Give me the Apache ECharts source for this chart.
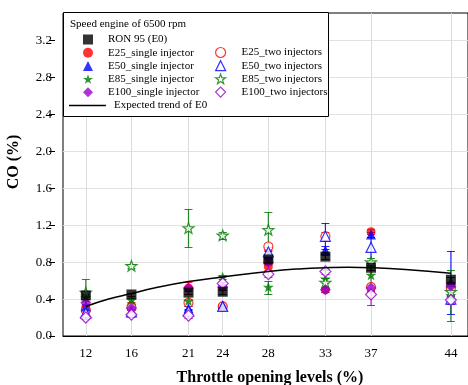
<!DOCTYPE html>
<html>
<head>
<meta charset="utf-8">
<script src="https://cdn.jsdelivr.net/npm/echarts@6/dist/echarts.min.js"></script>
<style>
  html, body { margin: 0; padding: 0; background: #fff; }
  #chart { width: 468px; height: 385px; }
</style>
</head>
<body>
<div id="chart"></div>
<script>
const throttle = [12, 16, 21, 24, 28, 33, 37, 44];
const yTicks = [0, 0.4, 0.8, 1.2, 1.6, 2.0, 2.4, 2.8, 3.2];

const e0 = [0.44, 0.45, 0.47, 0.48, 0.83, 0.86, 0.74, 0.61];
const e0Err = [0.02, 0.02, 0.02, 0.02, 0.03, 0.03, 0.03, 0.03];
const e25Single = [0.30, 0.33, 0.52, 0.32, 0.75, 0.50, 1.13, 0.55];
const e25SingleErr = [0.02, 0.02, 0.06, 0.02, 0.03, 0.02, 0.03, 0.03];
const e25Two = [0.28, 0.31, 0.36, 0.32, 0.97, 1.08, 0.53, 0.52];
const e25TwoErr = [0.02, 0.02, 0.03, 0.02, 0.04, 0.05, 0.03, 0.03];
const e50Single = [0.32, 0.27, 0.30, 0.33, 0.88, 0.93, 1.10, 0.58];
const e50SingleErr = [0.03, 0.02, 0.02, 0.02, 0.04, 0.05, 0.03, 0.34];
const e50Two = [0.25, 0.26, 0.27, 0.32, 0.91, 1.08, 0.96, 0.40];
const e50TwoErr = [0.02, 0.02, 0.02, 0.02, 0.03, 0.14, 0.17, 0.04];
const e85Single = [0.42, 0.39, 0.38, 0.64, 0.53, 0.62, 0.66, 0.44];
const e85SingleErr = [0.02, 0.02, 0.02, 0.02, 0.07, 0.10, 0.10, 0.28];
const e85Two = [0.47, 0.76, 1.17, 1.09, 1.15, 0.58, 0.80, 0.48];
const e85TwoErr = [0.15, 0.02, 0.21, 0.04, 0.19, 0.05, 0.05, 0.05];
const e100Single = [0.36, 0.30, 0.52, 0.53, 0.80, 0.50, 0.52, 0.54];
const e100SingleErr = [0.02, 0.02, 0.02, 0.02, 0.03, 0.02, 0.03, 0.03];
const e100Two = [0.20, 0.23, 0.22, 0.57, 0.67, 0.70, 0.45, 0.39];
const e100TwoErr = [0.02, 0.02, 0.02, 0.02, 0.03, 0.03, 0.11, 0.04];

const trendX = [12, 14, 16, 18, 21, 24, 28, 31, 33, 35, 37, 40, 44];
const trendY = [0.32, 0.40, 0.46, 0.52, 0.59, 0.64, 0.70, 0.73, 0.74, 0.745, 0.74, 0.72, 0.68];

const FONT = "Liberation Serif";
const RED = "#ff0000", BLUE = "#0000ff", GREEN = "#007a00", PURPLE = "#9900cc";
const STAR = "path://M0,-10L2.35,-3.24L9.51,-3.09L3.8,1.24L5.88,8.09L0,4L-5.88,8.09L-3.8,1.24L-9.51,-3.09L-2.35,-3.24Z";
const TREND_ICON = "path://M0,0L40,0L40,1.6L0,1.6Z";

const groups = [
  { name: "E25_single injector", values: e25Single, err: e25SingleErr, color: RED, symbol: "circle", size: 9, hollow: false },
  { name: "E25_two injectors", values: e25Two, err: e25TwoErr, color: RED, symbol: "circle", size: 9, hollow: true },
  { name: "E50_single injector", values: e50Single, err: e50SingleErr, color: BLUE, symbol: "triangle", size: 10, hollow: false },
  { name: "E50_two injectors", values: e50Two, err: e50TwoErr, color: BLUE, symbol: "triangle", size: 10, hollow: true },
  { name: "E85_single injector", values: e85Single, err: e85SingleErr, color: GREEN, symbol: STAR, size: 11, hollow: false },
  { name: "E85_two injectors", values: e85Two, err: e85TwoErr, color: GREEN, symbol: STAR, size: 11, hollow: true },
  { name: "E100_single injector", values: e100Single, err: e100SingleErr, color: PURPLE, symbol: "diamond", size: 11, hollow: false },
  { name: "E100_two injectors", values: e100Two, err: e100TwoErr, color: PURPLE, symbol: "diamond", size: 11, hollow: true },
  { name: "RON 95 (E0)", values: e0, err: e0Err, color: "#000", symbol: "rect", size: 10, hollow: false },
];

function errRender(params, api) {
  const x = api.value(0), y = api.value(1), e = api.value(2);
  const top = api.coord([x, y + e]);
  const bot = api.coord([x, y - e]);
  const color = api.visual("color");
  const w = 4;
  const cx = top[0];
  const ty = Math.round(top[1]);
  const by = Math.round(bot[1]);
  const st = () => ({ fill: color, opacity: 0.85 });
  return {
    type: "group",
    children: [
      { type: "rect", shape: { x: cx - 0.6, y: ty, width: 1.2, height: by - ty + 1 }, style: st() },
      { type: "rect", shape: { x: cx - w, y: ty, width: 2 * w, height: 1 }, style: st() },
      { type: "rect", shape: { x: cx - w, y: by, width: 2 * w, height: 1 }, style: st() },
    ],
  };
}

const series = [
  {
    // vertical grid lines at the labelled throttle levels
    type: "line",
    data: [],
    silent: true,
    z: 0,
    markLine: {
      silent: true,
      z: 0,
      symbol: "none",
      label: { show: false },
      lineStyle: { color: "#dcdcdc", width: 1, type: "solid" },
      data: throttle.map((v) => ({ xAxis: v })),
    },
  },
];

groups.forEach((g) => {
  series.push({
    type: "custom",
    renderItem: errRender,
    itemStyle: { color: g.color },
    data: throttle.map((x, i) => [x, g.values[i], g.err[i]]),
    z: 2,
    silent: true,
  });
});

groups.forEach((g) => {
  series.push({
    name: g.name,
    type: "scatter",
    symbol: g.symbol,
    symbolSize: g.size,
    symbolKeepAspect: true,
    itemStyle: g.hollow
      ? { color: "#fff", borderColor: g.color, borderWidth: 1.2 }
      : { color: g.color, borderWidth: 0 },
    data: throttle.map((x, i) => [x, g.values[i]]),
    z: 3,
  });
});

series.push({
  name: "Expected trend of E0",
  type: "line",
  smooth: true,
  showSymbol: false,
  symbol: "none",
  lineStyle: { color: "#000", width: 1.5 },
  itemStyle: { color: "#000" },
  data: trendX.map((x, i) => [x, trendY[i]]),
  z: 4,
});

function legendItems(names) {
  return names.map((n) => {
    const g = groups.find((gg) => gg.name === n);
    return { name: n, icon: g.symbol, itemStyle: g.hollow ? { color: "#fff", borderColor: g.color, borderWidth: 1.2 } : { color: g.color } };
  });
}

const legendBase = {
  orient: "vertical",
  padding: 0,
  itemGap: 0.2,
  itemWidth: 10,
  itemHeight: 10,
  selectedMode: false,
  z: 20,
  textStyle: { fontFamily: FONT, fontSize: 11, color: "#000", lineHeight: 13 },
};

const option = {
  animation: false,
  backgroundColor: "#fff",
  grid: { left: 63, right: -2, top: 13, bottom: 49, show: true, borderColor: "#000", borderWidth: 1 },
  xAxis: {
    type: "value",
    min: 10,
    max: 45.5,
    axisLine: { show: true, lineStyle: { color: "#000" } },
    axisTick: { show: false },
    splitLine: { show: false },
    axisLabel: {
      customValues: throttle,
      fontFamily: FONT,
      fontSize: 13,
      color: "#000",
      margin: 11,
    },
  },
  yAxis: {
    type: "value",
    min: 0,
    max: 3.5,
    interval: 0.4,
    offset: 8,
    axisLine: { show: false },
    axisTick: { show: true, length: 6, customValues: yTicks, lineStyle: { color: "#000" } },
    splitLine: { show: true, lineStyle: { color: "#e2e2e2" } },
    axisLabel: {
      customValues: yTicks,
      fontFamily: FONT,
      fontSize: 13,
      color: "#000",
      margin: 3,
      formatter: (v) => v.toFixed(1),
    },
  },
  legend: [
    Object.assign({}, legendBase, {
      left: 83,
      top: 33,
      textStyle: Object.assign({}, legendBase.textStyle, { padding: [0, 0, 0, 10] }),
      data: legendItems(["RON 95 (E0)", "E25_single injector", "E50_single injector", "E85_single injector", "E100_single injector"]),
    }),
    Object.assign({}, legendBase, {
      left: 215,
      top: 46,
      textStyle: Object.assign({}, legendBase.textStyle, { padding: [0, 0, 0, 11] }),
      data: legendItems(["E25_two injectors", "E50_two injectors", "E85_two injectors", "E100_two injectors"]),
    }),
    Object.assign({}, legendBase, {
      left: 69,
      top: 99,
      itemWidth: 37,
      itemHeight: 2,
      textStyle: Object.assign({}, legendBase.textStyle, { padding: [0, 0, 0, 3] }),
      data: [{ name: "Expected trend of E0", icon: TREND_ICON, itemStyle: { color: "#000" } }],
    }),
  ],
  graphic: [
    {
      type: "rect",
      left: 63,
      top: 12,
      shape: { width: 265, height: 104 },
      style: { fill: "#fff", stroke: "#000", lineWidth: 1 },
      z: 10,
    },
    {
      type: "text",
      left: 70,
      top: 19,
      style: { text: "Speed engine of 6500 rpm", fontFamily: FONT, fontSize: 11, fill: "#000" },
      z: 20,
    },
    {
      type: "text",
      x: 14,
      y: 162,
      rotation: Math.PI / 2,
      style: {
        text: "CO (%)",
        fontFamily: FONT,
        fontSize: 16,
        fontWeight: "bold",
        fill: "#000",
        align: "center",
        verticalAlign: "middle",
      },
    },
    {
      type: "text",
      x: 270,
      y: 378,
      style: {
        text: "Throttle opening levels (%)",
        fontFamily: FONT,
        fontSize: 16,
        fontWeight: "bold",
        fill: "#000",
        align: "center",
        verticalAlign: "middle",
      },
    },
  ],
  series,
};

const chart = echarts.init(document.getElementById("chart"));
chart.setOption(option);
</script>
</body>
</html>
